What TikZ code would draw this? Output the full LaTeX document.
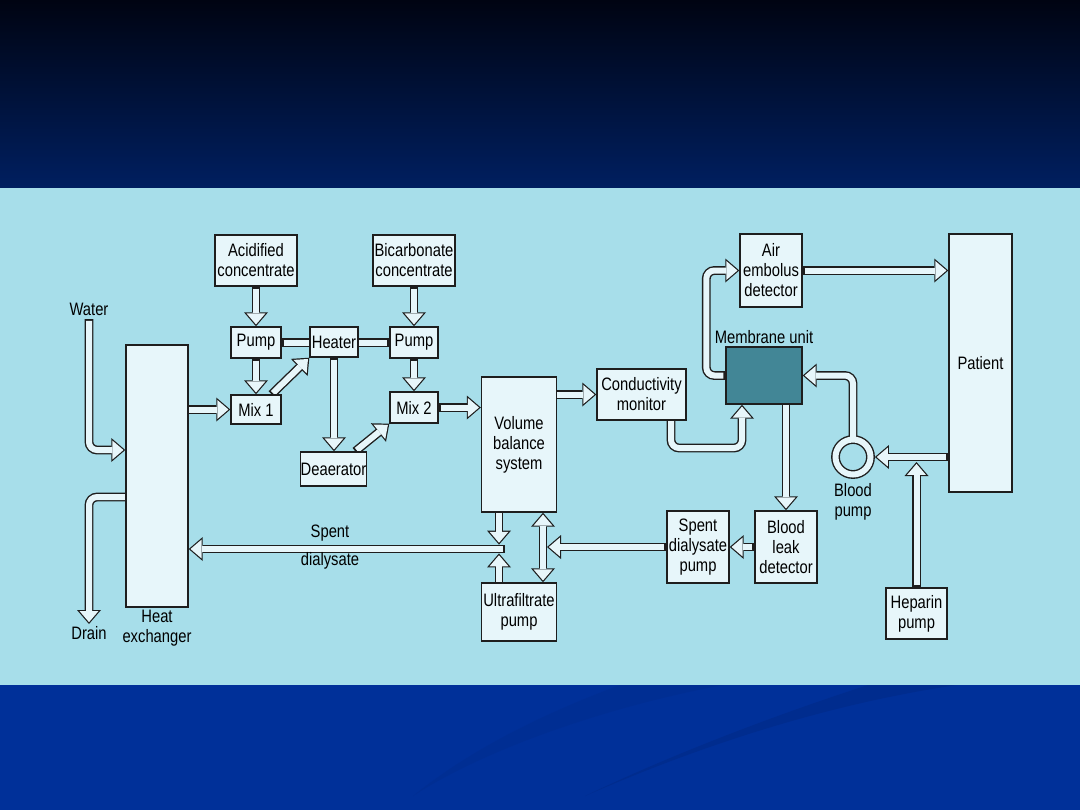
\documentclass[tikz,border=0pt]{standalone}
\usepackage{fontspec}
\setmainfont{Liberation Sans}[FakeStretch=0.82]
\usetikzlibrary{arrows.meta,calc}
\pgfdeclarelayer{panel}
\pgfdeclarelayer{pipes}
\pgfsetlayers{panel,pipes,main}
\definecolor{topnavy}{RGB}{0,4,18}
\definecolor{topblue}{RGB}{0,31,96}
\definecolor{panelblue}{RGB}{167,222,234}
\definecolor{lowblue}{RGB}{0,48,153}
\definecolor{swooshA}{RGB}{0,46,147}
\definecolor{swooshB}{RGB}{0,44,142}
\definecolor{boxfill}{RGB}{231,246,250}
\definecolor{boxline}{RGB}{30,30,30}
\definecolor{membteal}{RGB}{66,134,150}
\begin{document}
\begin{tikzpicture}[x=0.5pt, y=-0.5pt, font=\fontsize{9}{10}\selectfont,
  box/.style={draw=boxline, fill=boxfill, line width=0.7pt, inner sep=0pt, align=center},
  sz/.style 2 args={minimum width=#1, minimum height=#2},
  lbl/.style={inner sep=0pt, align=center},
  tubeout/.style={line width=4.4pt, draw=boxline, rounded corners=4pt, ->,
    >={Triangle[length=7pt, width=12pt, line width=0pt]}},
  tubein/.style={line width=3pt, draw=boxfill, rounded corners=4pt, ->,
    shorten <=0.92pt, shorten >=0.92pt,
    >={Triangle[length=5.5pt, width=9.4pt, line width=0pt]}},
  ]
  %%% slide background %%%
  \begin{pgfonlayer}{panel}
    \shade[top color=topnavy, bottom color=topblue] (0,0) rectangle (1080,188);
    \fill[panelblue] (0,188) rectangle (1080,685);
    \fill[lowblue] (0,685) rectangle (1080,810);
    \fill[swooshA] (620,685) .. controls (540,715) and (470,750) .. (413,796)
      .. controls (480,752) and (600,708) .. (723,685) -- cycle;
    \fill[swooshB] (868,685) .. controls (760,720) and (660,760) .. (585,796)
      .. controls (690,750) and (820,705) .. (957,685) -- cycle;
  \end{pgfonlayer}
  \useasboundingbox (0,0) rectangle (1080,810);

  %%% concentrates, pumps and mixing %%%
  \node[box, sz={41pt}{25.5pt}] (acid)   at (256,260.5) {Acidified\\concentrate};
  \node[box, sz={41pt}{25.5pt}] (bicarb) at (414,260.5) {Bicarbonate\\concentrate};
  \node[box, sz={25pt}{15.5pt}] (pumpA)  at (256,342.5) {Pump};
  \node[box, sz={24pt}{15pt}]   (heater) at (334,342)   {Heater};
  \node[box, sz={24pt}{15.5pt}] (pumpB)  at (414,342.5) {Pump};
  \node[box, sz={25pt}{14.5pt}] (mixA)   at (256,409.5) {Mix 1};
  \node[box, sz={24pt}{15.5pt}] (mixB)   at (414,407.5) {Mix 2};
  \node[box, sz={32.5pt}{17pt}] (deaer)  at (333.5,469) {Deaerator};

  %%% dialysate circuit %%%
  \node[box, sz={31pt}{131pt}]    (hx)   at (157,476)     {};
  \node[box, sz={37.5pt}{67.5pt}] (vbs)  at (519,444.5)   {Volume\\balance\\system};
  \node[box, sz={44.5pt}{25.5pt}] (cond) at (641.5,394.5) {Conductivity\\monitor};
  \node[box, sz={31pt}{36pt}]     (leak) at (786,547)     {Blood\\leak\\detector};
  \node[box, sz={31pt}{36pt}]     (sdp)  at (698,547)     {Spent\\dialysate\\pump};
  \node[box, sz={37.5pt}{29pt}]   (ufp)  at (519,612)     {Ultrafiltrate\\pump};

  %%% blood circuit %%%
  \node[box, fill=membteal, sz={38pt}{28.5pt}] (memb) at (764,375.5) {};
  \node[box, sz={31pt}{36.5pt}]  (air)     at (771,270.5)   {Air\\embolus\\detector};
  \node[box, sz={31.5pt}{129pt}] (patient) at (980.5,363)   {Patient};
  \node[box, sz={30.5pt}{25.5pt}] (hep)    at (916.5,613.5) {Heparin\\pump};
  \node[circle, minimum size=21.5pt, inner sep=0pt] (bp) at (853,457) {};

  %%% free labels %%%
  \node[lbl] (water)    at (89,309)    {Water};
  \node[lbl] (drain)    at (89,633)    {Drain};
  \node[lbl] (hxlbl)    at (157,628)   {Heat\\exchanger};
  \node[lbl] (spentlbl) at (330,533)   {Spent};
  \node[lbl] (diallbl)  at (330,561)   {dialysate};
  \node[lbl] (memblbl)  at (764,337)   {Membrane unit};
  \node[lbl] (bplbl)    at (853,502)   {Blood\\pump};

  \coordinate (waterin)  at (89,319);
  \coordinate (drainout) at (89,624);
  \coordinate (spentend) at (505,549);
  \coordinate (junction) at (499,549);
  \coordinate (uftip)    at (547,547);

  %%% tubes: dark outline pass, then light core pass %%%
  \begin{pgfonlayer}{pipes}
  \foreach \ly in {tubeout,tubein} {
    \draw[\ly] (acid) -- (pumpA.north);
    \draw[\ly] (bicarb) -- (pumpB.north);
    \draw[\ly] (pumpA) -- (mixA.north);
    \draw[\ly] (pumpB) -- (mixB.north);
    \draw[\ly,-] (pumpA) -- (pumpB);                % through heater
    \draw[\ly] (mixA) -- (heater.south west);
    \draw[\ly] (heater) -- (heater |- deaer.north);
    \draw[\ly] (deaer) -- (mixB.south west);
    \draw[\ly] (mixB) -- (mixB -| vbs.west);
    \draw[\ly] (hx |- mixA) -- (mixA.west);
    \draw[\ly] (waterin) |- ($(hx.west)+(0,-26)$);  % water in
    \draw[\ly] ($(hx)+(0,21)$) -| (drainout);      % to drain
    \draw[\ly] (vbs |- cond) -- (cond.west);
    \draw[\ly] ($(cond)+(29.5,0)$) -- ++(0,53.5) -| ($(memb.south)+(-22,0)$);
    \draw[\ly] (memb) -| ($(air.west)+(-33,0)$) -- (air.west);
    \draw[\ly] (air) -- (air -| patient.west);
    \draw[\ly] ($(bp)+(0,-16)$) |- (memb.east);
    \draw[\ly] (patient.west |- bp) -- (bp.east);
    \draw[\ly] (hep) -- ($(hep |- bp)+(0,5)$);
    \draw[\ly] (leak |- memb) -- (leak.north);
    \draw[\ly] (leak) -- (sdp.east);
    \draw[\ly] (sdp) -- (uftip);
    \draw[\ly,<->] ($(vbs.south)+(24,0)$) -- ($(ufp.north)+(24,0)$);
    \draw[\ly] (spentend) -- (hx.east |- spentend); % spent dialysate
    \draw[\ly] (vbs -| junction) -- ($(junction)+(0,-4.4)$);
    \draw[\ly] (ufp -| junction) -- ($(junction)+(0,4.4)$);
    \draw[\ly,-] (bp) circle (8.75pt);             % blood pump
  }
  \end{pgfonlayer}
\end{tikzpicture}
\end{document}
